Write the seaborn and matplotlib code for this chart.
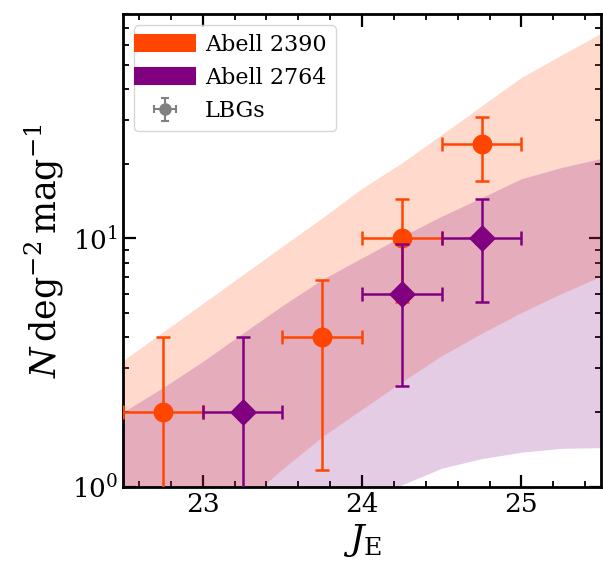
import numpy as np
import pandas as pd
import matplotlib
matplotlib.use("Agg")
import matplotlib.pyplot as plt
import seaborn as sns
from matplotlib.lines import Line2D
from matplotlib.ticker import MultipleLocator

# model bands (J_E magnitude grid)
mag_grid = [22.5, 22.75, 23.0, 23.25, 23.5, 23.75, 24.0, 24.25, 24.5, 24.75, 25.0, 25.25, 25.5]
a2390_lo = [0.35, 0.47, 0.63, 0.85, 1.17, 1.58, 2.04, 2.63, 3.35, 4.12, 5.0, 5.96, 7.0]
a2390_hi = [3.2, 4.17, 5.43, 7.08, 9.23, 12.0, 15.8, 20.0, 26.0, 33.9, 44.2, 54.3, 66.5]
a2764_lo = [0.28, 0.34, 0.41, 0.49, 0.60, 0.72, 0.87, 1.02, 1.19, 1.30, 1.38, 1.43, 1.44]
a2764_hi = [2.0, 2.51, 3.2, 4.15, 5.37, 6.84, 8.36, 10.2, 12.3, 14.6, 17.4, 19.3, 21.0]

# observed LBG number counts
a2390_mag = [22.75, 23.75, 24.25, 24.75]
a2390_n = [2, 4, 10, 24]
a2390_err = [2.0, 2.83, 4.47, 6.93]
a2764_mag = [23.25, 24.25, 24.75]
a2764_n = [2, 6, 10]
a2764_err = [2.0, 3.46, 4.47]
bin_half = 0.25

col_2390 = "orangered"
col_2764 = "purple"

sns.set_style("ticks", {
    "axes.edgecolor": "black",
    "xtick.color": "black",
    "ytick.color": "black",
    "text.color": "black",
    "axes.labelcolor": "black",
    "xtick.direction": "in",
    "ytick.direction": "in",
})
plt.rcParams["font.family"] = ["DejaVu Serif"]
plt.rcParams["mathtext.fontset"] = "dejavuserif"

fig = plt.figure(figsize=(6.03, 5.62), dpi=100)
ax = fig.add_axes([0.204, 0.1335, 0.793, 0.8415])

ax.fill_between(mag_grid, a2390_lo, a2390_hi, color=col_2390, alpha=0.2, lw=0, zorder=1)
ax.fill_between(mag_grid, a2764_lo, a2764_hi, color=col_2764, alpha=0.2, lw=0, zorder=1)

ax.errorbar(a2390_mag, a2390_n, xerr=bin_half, yerr=a2390_err, fmt="none",
            ecolor=col_2390, elinewidth=1.8, capsize=5, capthick=1.8, zorder=3)
df1 = pd.DataFrame({"mag": a2390_mag, "n": a2390_n})
sns.scatterplot(data=df1, x="mag", y="n", ax=ax, color=col_2390, marker="o",
                s=205, linewidth=0, zorder=4)

ax.errorbar(a2764_mag, a2764_n, xerr=bin_half, yerr=a2764_err, fmt="none",
            ecolor=col_2764, elinewidth=1.8, capsize=5, capthick=1.8, zorder=5)
df2 = pd.DataFrame({"mag": a2764_mag, "n": a2764_n})
sns.scatterplot(data=df2, x="mag", y="n", ax=ax, color=col_2764, marker="D",
                s=190, linewidth=0, zorder=6)

# legend handle for the points
lbg = ax.errorbar([np.nan], [np.nan], xerr=[0.25], yerr=[1], fmt="o", color="gray",
                  ms=8, capsize=3, elinewidth=1.5, capthick=1.5)

ax.set_yscale("log")
ax.set_xlim(22.5, 25.5)
ax.set_ylim(1, 80)
ax.xaxis.set_major_locator(MultipleLocator(1))
ax.xaxis.set_minor_locator(MultipleLocator(0.2))

ax.tick_params(which="both", direction="in", top=True, right=True, labelsize=19)
ax.tick_params(which="major", length=9, width=1.6)
ax.tick_params(which="minor", length=4.5, width=1.3)
for s in ax.spines.values():
    s.set_linewidth(2)
    s.set_visible(True)

ax.set_xlabel(r"$J_\mathrm{E}$", fontsize=26)
ax.set_ylabel(r"$N\,\mathrm{deg}^{-2}\,\mathrm{mag}^{-1}$", fontsize=25)

handles = [Line2D([], [], color=col_2390, lw=13, solid_capstyle="projecting"),
           Line2D([], [], color=col_2764, lw=13, solid_capstyle="projecting"),
           lbg]
ax.legend(handles, ["Abell 2390", "Abell 2764", "LBGs"], loc="upper left",
          fontsize=16, frameon=True)

fig.savefig("out.png", dpi=100)
